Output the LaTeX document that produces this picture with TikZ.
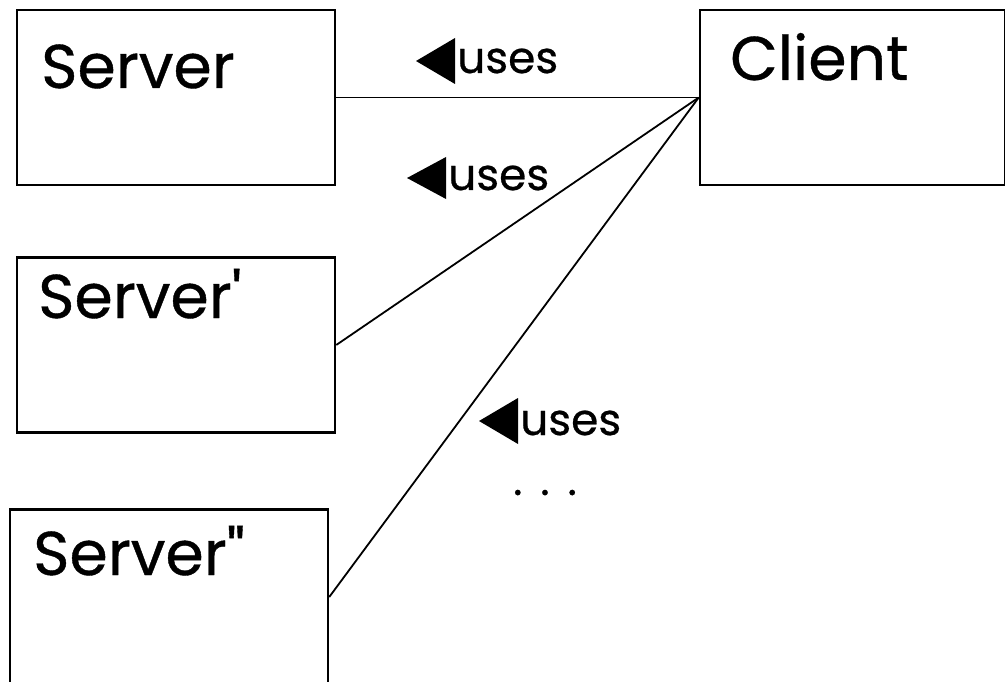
\documentclass[tikz,border=0pt]{standalone}
\usepackage{fontspec}
\setmainfont{Poppins}[FakeBold=0.6]
\begin{document}
\begin{tikzpicture}[x=1bp,y=-1bp,
  cls/.style={draw,line width=2.5bp,minimum width=318bp,minimum height=175bp,inner sep=0pt},
  title/.style={anchor=base west,inner sep=0pt,font=\fontsize{62}{66}\selectfont},
  role/.style={anchor=base west,inner sep=0pt,font=\fontsize{44}{48}\selectfont},
  assoc/.style={line width=1.8bp},
  dir/.style={fill=black}]
\useasboundingbox (0,0) rectangle (1005,682);
\clip (0,0) rectangle (1005,682);
% class boxes
\node[cls] (srv)  at (176,97.5) {};
\node[cls] (srv1) at (176,345) {};
\node[cls] (srv2) at (169,597) {};
\node[cls,minimum width=305bp] (cli) at (852.5,97.5) {};
% class names
\node[title] (srvT)  at (41,88)  {Server};
\node[title] (srv1T) at (38,318) {Server\textquotesingle};
\node[title] (srv2T) at (33,575) {Server\textquotedbl};
\node[title] (cliT)  at (730,80) {Client};
% associations
\draw[assoc] (srv.east)  -- (cli.west);
\draw[assoc] (srv1.east) -- (cli.west);
\draw[assoc] (srv2.east) -- (cli.west);
% association names with reading direction
\coordinate (d1) at (455,61);
\coordinate (d2) at (446,178);
\coordinate (d3) at (518,421);
\fill[dir] (d1) -- ++(0,-23) -- ++(-39,23) -- ++(39,23) -- cycle;
\fill[dir] (d2) -- ++(0,-21) -- ++(-39,21) -- ++(39,21) -- cycle;
\fill[dir] (d3) -- ++(0,-23) -- ++(-39,23) -- ++(39,23) -- cycle;
\node[role] (u1) at (457,73)  {uses};
\node[role] (u2) at (448,190) {uses};
\node[role] (u3) at (520,435) {uses};
\node[role] (dots) at (513,495) {.\hspace{18bp}.\hspace{18bp}.};
\end{tikzpicture}
\end{document}
